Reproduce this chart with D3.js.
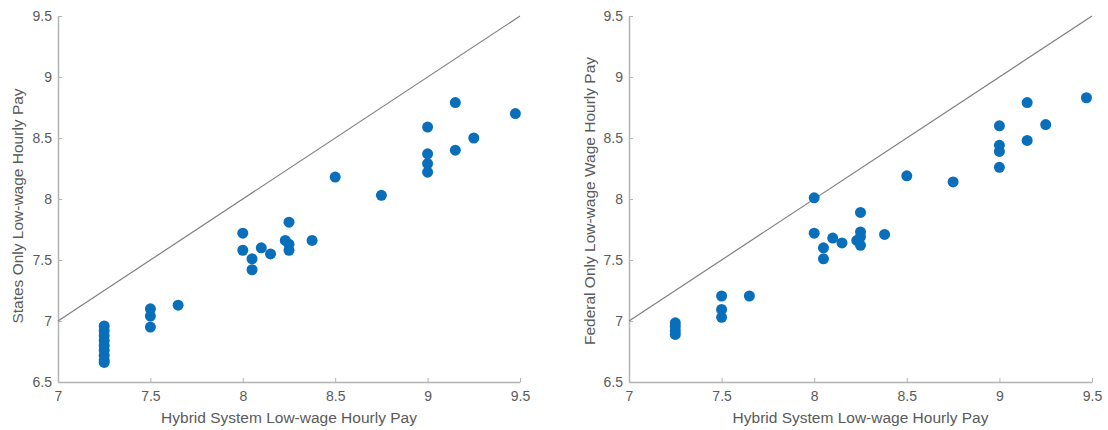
<!DOCTYPE html>
<html>
<head>
<meta charset="utf-8">
<script src="https://cdn.jsdelivr.net/npm/d3@7"></script>
<style>
  html, body { margin: 0; padding: 0; background: #fff; }
  svg { display: block; }
  text { font-family: "Liberation Sans", Arial, sans-serif; fill: #5a5a5a; }
</style>
</head>
<body>
<svg id="chart" width="1108" height="430"></svg>
<script>
// ---- Data ----
const xDomain = [7, 9.5];
const yDomain = [6.5, 9.5];
const tickValues = [7, 7.5, 8, 8.5, 9, 9.5];
const tickLabels = ["7", "7.5", "8", "8.5", "9", "9.5"];
const yTickValues = [6.5, 7, 7.5, 8, 8.5, 9, 9.5];
const yTickLabels = ["6.5", "7", "7.5", "8", "8.5", "9", "9.5"];

const xLabel = "Hybrid System Low-wage Hourly Pay";
const yLabelLeft = "States Only Low-wage Hourly Pay";
const yLabelRight = "Federal Only Low-wage Wage Hourly Pay";

// Left panel: Hybrid (x) vs States Only (y)
const hybridLeft = [7.25, 7.25, 7.25, 7.25, 7.25, 7.25, 7.25, 7.25, 7.25,
  7.5, 7.5, 7.5, 7.65,
  8.0, 8.0, 8.05, 8.05, 8.1, 8.15,
  8.23, 8.25, 8.25, 8.25, 8.375,
  8.5, 8.75,
  9.0, 9.0, 9.0, 9.0,
  9.15, 9.15, 9.25, 9.475];
const statesOnly = [6.96, 6.92, 6.88, 6.84, 6.80, 6.76, 6.72, 6.68, 6.66,
  7.10, 7.04, 6.95, 7.13,
  7.72, 7.58, 7.51, 7.42, 7.60, 7.55,
  7.66, 7.81, 7.63, 7.58, 7.66,
  8.18, 8.03,
  8.59, 8.37, 8.29, 8.22,
  8.79, 8.40, 8.50, 8.70];

// Right panel: Hybrid (x) vs Federal Only (y)
const hybridRight = [7.25, 7.25, 7.25, 7.25,
  7.5, 7.5, 7.5, 7.65,
  8.0, 8.0, 8.05, 8.05, 8.1, 8.15,
  8.23, 8.25, 8.25, 8.25, 8.25, 8.38,
  8.5, 8.75,
  9.0, 9.0, 9.0, 9.0,
  9.15, 9.15, 9.25, 9.47];
const federalOnly = [6.985, 6.955, 6.92, 6.89,
  7.205, 7.095, 7.03, 7.205,
  8.01, 7.72, 7.60, 7.51, 7.68, 7.64,
  7.66, 7.89, 7.73, 7.69, 7.62, 7.71,
  8.19, 8.14,
  8.60, 8.44, 8.39, 8.26,
  8.79, 8.48, 8.61, 8.83];

const diagonal = [7, 9.5];

// ---- Layout ----
const svg = d3.select("#chart");
const panels = [
  { left: 58, right: 520, xs: hybridLeft, ys: statesOnly, ylab: yLabelLeft, ylabX: 23, ylabY: 206 },
  { left: 629, right: 1092, xs: hybridRight, ys: federalOnly, ylab: yLabelRight, ylabX: 595, ylabY: 201 }
];
const plotTop = 16, plotBottom = 382;
const axisColor = "#b3b3b3";

panels.forEach(p => {
  const x = d3.scaleLinear().domain(xDomain).range([p.left, p.right]);
  const y = d3.scaleLinear().domain(yDomain).range([plotBottom, plotTop]);
  const g = svg.append("g");

  // x axis
  const xa = g.append("g").attr("transform", `translate(0,${plotBottom})`)
    .call(d3.axisBottom(x).tickValues(tickValues)
      .tickFormat((d, i) => tickLabels[i]).tickSizeInner(-4).tickSizeOuter(0).tickPadding(9));
  // y axis
  const ya = g.append("g").attr("transform", `translate(${p.left},0)`)
    .call(d3.axisLeft(y).tickValues(yTickValues)
      .tickFormat((d, i) => yTickLabels[i]).tickSizeInner(-4).tickSizeOuter(0).tickPadding(6));
  [xa, ya].forEach(a => {
    a.select(".domain").attr("stroke", axisColor).attr("stroke-width", 1.5);
    a.selectAll(".tick line").attr("stroke", axisColor).attr("stroke-width", 1);
    a.selectAll(".tick text").attr("fill", "#5a5a5a")
      .style("font-size", "14px").style("font-family", "'Liberation Sans', Arial, sans-serif");
  });

  // diagonal y = x
  g.append("line")
    .attr("x1", x(diagonal[0])).attr("y1", y(diagonal[0]))
    .attr("x2", x(diagonal[1])).attr("y2", y(diagonal[1]))
    .attr("stroke", "#7f7f7f").attr("stroke-width", 1.2);

  // points
  g.selectAll("circle.pt").data(p.xs.map((v, i) => [v, p.ys[i]])).enter()
    .append("circle").attr("class", "pt")
    .attr("cx", d => x(d[0])).attr("cy", d => y(d[1]))
    .attr("r", 5.5).attr("fill", "#0a6fba");

  // x label
  g.append("text").attr("x", (p.left + p.right) / 2).attr("y", 423)
    .attr("text-anchor", "middle").style("font-size", "15.5px").text(xLabel);
  // y label
  g.append("text")
    .attr("transform", `translate(${p.ylabX},${p.ylabY}) rotate(-90)`)
    .attr("text-anchor", "middle").style("font-size", "15.5px").text(p.ylab);
});
</script>
</body>
</html>
